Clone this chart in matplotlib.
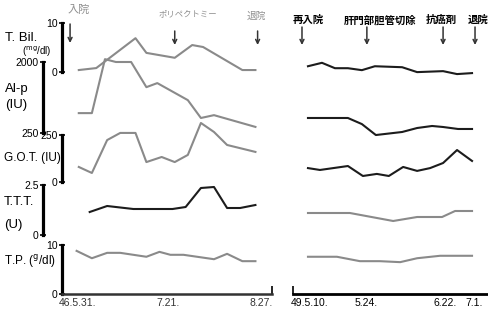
import matplotlib.pyplot as plt

W, H = 489, 322  # output size in px (dpi 100)

# ---- data (x = days from start of each admission) ----
# first admission, 46.5.31 - 8.27
l_tbil_x = [4, 12, 30, 35, 48, 56, 61, 79, 85]
l_tbil = [0.4, 0.8, 6.9, 3.9, 2.9, 5.5, 5.1, 0.4, 0.4]
l_alp_x = [4, 10, 16, 21, 28, 35, 40, 54, 60, 66, 85]
l_alp = [740, 740, 2070, 2000, 2000, 1380, 1480, 1060, 620, 690, 400]
l_got_x = [4, 10, 17, 23, 30, 35, 42, 48, 54, 60, 66, 72, 85]
l_got = [80, 48, 223, 261, 261, 106, 133, 106, 144, 314, 266, 197, 160]
l_ttt_x = [9, 17, 29, 47, 53, 60, 66, 72, 78, 85]
l_ttt = [1.15, 1.45, 1.3, 1.3, 1.4, 2.35, 2.4, 1.35, 1.35, 1.5]
l_tp_x = [3, 10, 17, 23, 35, 41, 46, 52, 66, 72, 79, 85]
l_tp = [8.8, 7.3, 8.4, 8.4, 7.6, 8.6, 8.0, 8.0, 7.1, 8.2, 6.7, 6.7]

# second admission, 49.5.10 - 7.1
r_tbil_x = [1.8, 6, 9.9, 13.8, 18, 21.9, 30.1, 34.6, 42.4, 46.6, 51.1]
r_tbil = [2.4, 3.1, 2.0, 2.0, 1.6, 2.4, 2.2, 1.2, 1.4, 0.8, 1.0]
r_alp_x = [1.8, 13.8, 18, 22.2, 30.1, 34.6, 39.1, 42.4, 46.9, 51.1]
r_alp = [620, 620, 470, 200, 275, 373, 423, 398, 349, 349]
r_got_x = [1.8, 5.4, 13.8, 18.3, 22.5, 26.1, 30.4, 34.6, 38.5, 42.4, 46.6, 51.1]
r_got = [74, 64, 85, 32, 43, 32, 80, 59, 74, 101, 170, 112]
r_ttt_x = [1.8, 14.4, 27.4, 34.6, 42.1, 46.0, 51.1]
r_ttt = [1.1, 1.1, 0.7, 0.9, 0.9, 1.2, 1.2]
r_tp_x = [1.8, 10.5, 17.4, 23.4, 29.5, 34.6, 41.5, 51.1]
r_tp = [7.6, 7.6, 6.7, 6.7, 6.5, 7.3, 7.8, 7.8]

l_tick_pos = [3.2, 45, 87.5]
l_tick_lab = ['46.5.31.', '7.21.', '8.27.']
r_tick_pos = [2.3, 19.2, 43.0, 51.6]
r_tick_lab = ['49.5.10.', '5.24.', '6.22.', '7.1.']

l_events = ['入院', 'ポリペクトミー', '退院']
l_event_day = [0, 48, 86]
l_event_lab_day = [4, 54, 85.5]
r_events = ['再入院', '肝門部胆管切除', '抗癌剤', '退院']
r_event_day = [0, 19.5, 42.4, 52]
r_event_lab_day = [1.8, 23.4, 42, 53]

GRAY = '#8a8a8a'
BLACK = '#1c1c1c'
SANS = ['Liberation Sans', 'DejaVu Sans']
JP = ['Noto Sans CJK JP', 'DejaVu Sans']

fig = plt.figure(figsize=(W / 100, H / 100), dpi=100)
fig.patch.set_facecolor('white')


def band(x0, x1, ytop, ybot, xlim, ylim):
    ax = fig.add_axes([x0 / W, 1 - ybot / H, (x1 - x0) / W, (ybot - ytop) / H])
    ax.set_xlim(*xlim)
    ax.set_ylim(*ylim)
    ax.patch.set_visible(False)
    for s in ax.spines.values():
        s.set_visible(False)
    ax.set_xticks([])
    ax.set_yticks([])
    return ax


L_XLIM = (-3.7, 92.6)
R_XLIM = (-2.7, 56.2)

# (top px, bottom px, ylim, scale bar offset px, tick labels)
left_bands = [
    (23, 72, (0, 10), 0, ['0', '10']),
    (62, 133, (250, 2000), 19, ['250', '2000']),
    (135, 182, (0, 250), 0, ['0', '250']),
    (185, 235, (0, 2.5), 19, ['0', '2.5']),
    (245, 294, (0, 10), 0, ['0', '10']),
]
left_series = [(l_tbil_x, l_tbil, GRAY), (l_alp_x, l_alp, GRAY), (l_got_x, l_got, GRAY),
               (l_ttt_x, l_ttt, BLACK), (l_tp_x, l_tp, GRAY)]
right_tops = [(29, 78), (62, 133), (135, 182), (185, 235), (245, 294)]
right_series = [(r_tbil_x, r_tbil, BLACK), (r_alp_x, r_alp, BLACK), (r_got_x, r_got, BLACK),
                (r_ttt_x, r_ttt, GRAY), (r_tp_x, r_tp, GRAY)]

left_axes = []
for (top, bot, ylim, off, labs), (xs, ys, c) in zip(left_bands, left_series):
    ax = band(62, 272, top, bot, L_XLIM, ylim)
    ax.plot(xs, ys, color=c, lw=1.5, clip_on=False)
    sp = ax.spines['left']
    sp.set_visible(True)
    sp.set_linewidth(2.3)
    sp.set_color('black')
    sp.set_bounds(*ylim)
    if off:
        sp.set_position(('outward', off * 0.72))
    ax.set_yticks(list(ylim))
    ax.set_yticklabels(labs, family=SANS, fontsize=7.5)
    ax.tick_params(axis='y', direction='inout', length=4, width=1.2, pad=1)
    left_axes.append(ax)

right_axes = []
for (top, bot), (xs, ys, c), (_, _, ylim, _, _) in zip(right_tops, right_series, left_bands):
    ax = band(293, 489, top, bot, R_XLIM, ylim)
    ax.plot(xs, ys, color=c, lw=1.5, clip_on=False)
    right_axes.append(ax)

# time axes
ax = left_axes[-1]
ax.spines['bottom'].set_visible(True)
ax.spines['bottom'].set_linewidth(1.8)
ax.spines['bottom'].set_color('#333333')
ax.set_xticks(l_tick_pos)
ax.set_xticklabels(l_tick_lab, family=SANS, fontsize=7.5, color='#333333')
ax.set_xticks([L_XLIM[1]], minor=True)
ax.tick_params(axis='x', which='major', length=0, pad=3)
ax.tick_params(axis='x', which='minor', direction='in', length=6, width=1.2)

ax = right_axes[-1]
ax.spines['bottom'].set_visible(True)
ax.spines['bottom'].set_linewidth(2.0)
ax.spines['bottom'].set_color('black')
ax.set_xticks(r_tick_pos)
ax.set_xticklabels(r_tick_lab, family=SANS, fontsize=7.5)
ax.set_xticks([R_XLIM[0]], minor=True)
ax.tick_params(axis='x', which='major', length=0, pad=3)
ax.tick_params(axis='x', which='minor', direction='in', length=6, width=1.2)

# events with arrows
l_style = [(8, 10, 24, 43), (6, 14, 31, 45), (7, 16, 31, 45)]
r_style = [(7.5, 20, 27, 45)] * 4
for axr, names, days, lab_days, col, weight, styles in [
        (left_axes[0], l_events, l_event_day, l_event_lab_day, '#8f8f8f', 'normal', l_style),
        (right_axes[0], r_events, r_event_day, r_event_lab_day, 'black', 'bold', r_style)]:
    for name, d, ld, (fs, ytxt, ya, yb) in zip(names, days, lab_days, styles):
        axr.annotate(name, xy=(ld, 1 - ytxt / H), xycoords=('data', 'figure fraction'),
                     ha='center', va='center', family=JP, fontsize=fs, color=col,
                     fontweight=weight, annotation_clip=False)
        axr.annotate('', xy=(d, 1 - yb / H), xytext=(d, 1 - ya / H),
                     xycoords=('data', 'figure fraction'), textcoords=('data', 'figure fraction'),
                     arrowprops=dict(arrowstyle='->', lw=1.1, color='#333333',
                                     shrinkA=0, shrinkB=0, mutation_scale=7),
                     annotation_clip=False)


# left side labels
def ftxt(x, y, s, **kw):
    kw.setdefault('family', SANS)
    kw.setdefault('fontsize', 9.5)
    fig.text(x / W, 1 - y / H, s, va='center', ha='left', **kw)


ftxt(5, 38, 'T. Bil.')
ftxt(22, 52, r'($^{\mathrm{mg}}$/dl)', fontsize=7)
ftxt(5, 89, 'Al-p')
ftxt(5, 105, '(IU)')
ftxt(4, 158, 'G.O.T. (IU)', fontsize=8.5)
ftxt(4, 202, 'T.T.T.')
ftxt(4, 225, '(U)')
ftxt(4, 262, r'T.P. ($^{\mathrm{g}}$/dl)', fontsize=8.5)

fig.savefig('out.png', dpi=100, facecolor='white')
